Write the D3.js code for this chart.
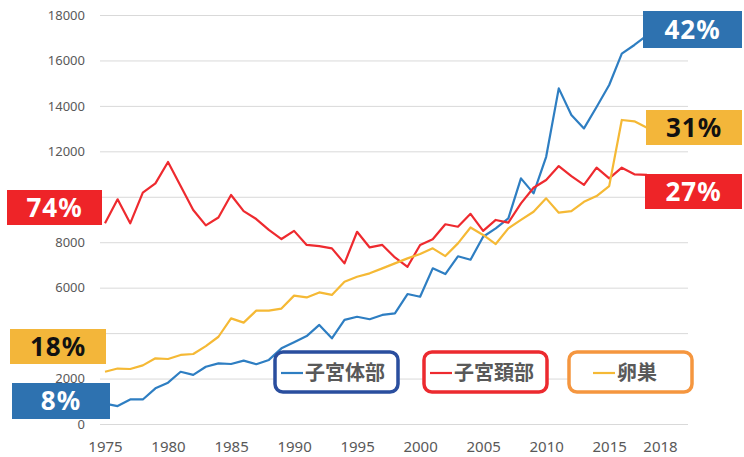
<!DOCTYPE html>
<html>
<head>
<meta charset="utf-8">
<script src="https://cdn.jsdelivr.net/npm/d3@7"></script>
<style>
  html, body { margin: 0; padding: 0; background: #fff; }
</style>
</head>
<body>
<div id="app"></div>
<script>
const container = document.querySelector('#app');

const width = 744;
const height = 457;

// years 1975..2018
const years = d3.range(1975, 2019);

// 子宮体部 (blue)
const corpus = [
  900, 790, 1080, 1080, 1570, 1820, 2300, 2160, 2520, 2670,
  2640, 2790, 2630, 2820, 3330, 3600, 3870, 4360, 3770, 4580,
  4720, 4610, 4800, 4870, 5720, 5600, 6850, 6600, 7380, 7230,
  8240, 8610, 9050, 10810, 10150, 11760, 14770, 13600, 13010, 13950,
  14920, 16300, 16680, 17100
];

// 子宮頚部 (red)
const cervix = [
  8830, 9890, 8830, 10180, 10590, 11530, 10470, 9420, 8740, 9090,
  10080, 9370, 9020, 8540, 8140, 8500, 7880, 7830, 7730, 7070,
  8460, 7770, 7880, 7330, 6920, 7880, 8130, 8790, 8680, 9250,
  8500, 8980, 8860, 9710, 10400, 10740, 11350, 10910, 10520, 11280,
  10810, 11280, 10990, 10960
];

// 卵巣 (yellow)
const ovary = [
  2300, 2440, 2420, 2580, 2890, 2860, 3040, 3080, 3430, 3840,
  4650, 4460, 4990, 4990, 5080, 5650, 5570, 5790, 5680, 6260,
  6480, 6630, 6850, 7070, 7290, 7480, 7730, 7390, 7950, 8650,
  8320, 7920, 8610, 8980, 9340, 9930, 9300, 9370, 9780, 10030,
  10470, 13380, 13320, 13040
];

const seriesNames = ["子宮体部", "子宮頚部", "卵巣"];
const yTicks = d3.range(0, 18001, 2000);
const xTicks = [1975, 1980, 1985, 1990, 1995, 2000, 2005, 2010, 2015, 2018];

// percentage call-outs at start (1975) and end (2018)
const startPct = ["8%", "74%", "18%"];
const endPct = ["42%", "27%", "31%"];

const lineColors = ["#2E7EC2", "#EE2A2F", "#F5B935"];
const boxColors = ["#2E72B0", "#EE2428", "#F3B63A"];
const legendBorders = ["#2A4E9E", "#EC2A2F", "#F5963F"];

const x = d3.scaleLinear()
    .domain([1975, 2018])
    .range([105, 647]);

const y = d3.scaleLinear()
    .domain([0, 18000])
    .range([424, 15]);

const svg = d3.create("svg")
    .attr("width", width)
    .attr("height", height)
    .style("font-family", "'Noto Sans', sans-serif");

// gridlines
svg.append("g")
    .attr("transform", "translate(100,0)")
    .call(d3.axisLeft(y).tickValues(yTicks).tickSize(-588).tickFormat(""))
    .call(g => g.select(".domain").remove())
    .call(g => g.selectAll("line").attr("stroke", "#d9d9d9").attr("stroke-width", 1));

// y axis labels
svg.append("g")
    .attr("transform", "translate(90,0)")
    .call(d3.axisLeft(y).tickValues(yTicks).tickSize(0).tickPadding(5).tickFormat(d3.format("d")))
    .call(g => g.select(".domain").remove())
    .call(g => g.selectAll("text")
        .attr("fill", "#595959")
        .style("font-size", "13px")
        .style("font-family", "'Noto Sans', sans-serif"));

// x axis labels
svg.append("g")
    .attr("transform", "translate(0,424)")
    .call(d3.axisBottom(x).tickValues(xTicks).tickSize(0).tickPadding(17).tickFormat(d3.format("d")))
    .call(g => g.select(".domain").remove())
    .call(g => g.selectAll("text")
        .attr("fill", "#595959")
        .attr("dx", d => d === 2018 ? 13 : 0)
        .style("font-size", "15px")
        .style("font-family", "'Noto Sans', sans-serif"));

// lines
const line = d3.line()
    .x((d, i) => x(years[i]))
    .y(d => y(d))
    .curve(d3.curveLinear);

[corpus, cervix, ovary].forEach((vals, i) => {
  svg.append("path")
    .datum(vals)
    .attr("fill", "none")
    .attr("stroke", lineColors[i])
    .attr("stroke-width", 2.2)
    .attr("stroke-linejoin", "round")
    .attr("d", line);
});

// call-out boxes (x, y, w, h)
const startBoxes = [[12, 383, 98, 36], [7, 190, 95, 35], [10, 329, 96, 35]];
const endBoxes = [[643, 11, 99, 37], [645, 174, 97, 35], [646, 110, 96, 35]];
const textColors = ["#fff", "#fff", "#111"];

function callout(b, txt, i) {
  svg.append("rect")
    .attr("x", b[0]).attr("y", b[1])
    .attr("width", b[2]).attr("height", b[3])
    .attr("fill", boxColors[i]);
  svg.append("text")
    .attr("x", b[0] + b[2] / 2)
    .attr("y", b[1] + b[3] / 2 + 9)
    .attr("text-anchor", "middle")
    .attr("fill", textColors[i])
    .style("font-size", "26px")
    .style("font-weight", "bold")
    .style("letter-spacing", "1px")
    .text(txt);
}
startPct.forEach((t, i) => callout(startBoxes[i], t, i));
endPct.forEach((t, i) => callout(endBoxes[i], t, i));

// legend
const legendX = [275, 424, 569];
seriesNames.forEach((name, i) => {
  const g = svg.append("g").attr("transform", `translate(${legendX[i]},352)`);
  g.append("rect")
    .attr("width", 123).attr("height", 40)
    .attr("rx", 8)
    .attr("fill", "#fff")
    .attr("stroke", legendBorders[i])
    .attr("stroke-width", 3.5);
  const lx = i === 2 ? 24 : 6;
  g.append("line")
    .attr("x1", lx).attr("x2", lx + 22)
    .attr("y1", 21).attr("y2", 21)
    .attr("stroke", lineColors[i])
    .attr("stroke-width", 2.2);
  g.append("text")
    .attr("x", lx + 24)
    .attr("y", 28)
    .attr("fill", "#595959")
    .style("font-family", "'Noto Sans CJK JP', sans-serif")
    .style("font-size", "20px")
    .style("font-weight", "bold")
    .text(name);
});

container.append(svg.node());
</script>
</body>
</html>
